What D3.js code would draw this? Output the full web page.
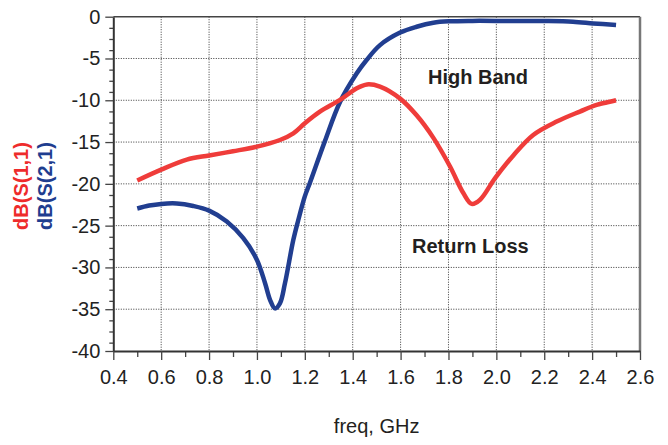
<!DOCTYPE html>
<html>
<head>
<meta charset="utf-8">
<script src="https://cdn.jsdelivr.net/npm/d3@7"></script>
<style>
  body { margin: 0; background: #ffffff; }
  svg { display: block; }
</style>
</head>
<body>
<div id="graph-container"></div>
<script>
// frequency (GHz) and dB values
const s11_freq = [0.5, 0.6, 0.707, 0.8, 0.9, 1.0, 1.096, 1.152, 1.2, 1.263, 1.347, 1.417, 1.46, 1.514,
                  1.598, 1.667, 1.737, 1.806, 1.862, 1.897, 1.932, 1.994, 2.071, 2.154, 2.252, 2.349, 2.419, 2.5];
const s11_db = [-19.6, -18.3, -17.1, -16.6, -16.1, -15.55, -14.75, -13.95, -12.75, -11.36, -9.96, -8.57, -8.1, -8.37,
                -9.8, -11.8, -14.5, -17.9, -21.1, -22.4, -21.9, -19.35, -16.6, -14.15, -12.55, -11.35, -10.55, -10.0];

const s21_freq = [0.5, 0.55, 0.6, 0.665, 0.734, 0.8, 0.874, 0.943, 1.0, 1.034, 1.055, 1.075, 1.096, 1.117,
                  1.152, 1.173, 1.2, 1.221, 1.283, 1.347, 1.417, 1.458, 1.514, 1.598, 1.667, 1.737, 1.806, 1.9,
                  2.0, 2.2, 2.32, 2.405, 2.5];
const s21_db = [-22.95, -22.6, -22.4, -22.35, -22.65, -23.2, -24.5, -26.5, -29.1, -31.9, -33.9, -34.9, -34.3, -31.9,
                -26.7, -24.3, -21.5, -19.9, -14.95, -10.2, -6.77, -5.18, -3.4, -1.9, -1.2, -0.72, -0.55, -0.5,
                -0.5, -0.52, -0.6, -0.8, -1.0];

const xTicks = [0.4, 0.6, 0.8, 1.0, 1.2, 1.4, 1.6, 1.8, 2.0, 2.2, 2.4, 2.6];
const yTicks = [0, -5, -10, -15, -20, -25, -30, -35, -40];
const xMinor = [0.5, 0.7, 0.9, 1.1, 1.3, 1.5, 1.7, 1.9, 2.1, 2.3, 2.5];
const yMinor = [];
for (let k = 0; k < 8; k++) {
    for (let j = 1; j <= 3; j++) yMinor.push(-(5 * k + 4 * j / 3));
}

const width = 668, height = 445;
const margin = { top: 16.7, right: 28, bottom: 94, left: 113.3 };
const w = width - margin.left - margin.right,
      h = height - margin.top - margin.bottom;

const svg = d3.select("#graph-container")
    .append("svg")
    .attr("width", width)
    .attr("height", height)
    .style("font-family", "'Liberation Sans', Arial, Helvetica, sans-serif");

const g = svg.append("g")
    .attr("transform", `translate(${margin.left}, ${margin.top})`);

const xScale = d3.scaleLinear().domain([0.4, 2.6]).range([0, w]);
const yScale = d3.scaleLinear().domain([-40, 0]).range([h, 0]);

// dotted grid
g.append("g")
    .selectAll("line")
    .data(xTicks.slice(1, -1))
    .join("line")
    .attr("x1", d => xScale(d)).attr("x2", d => xScale(d))
    .attr("y1", 0).attr("y2", h)
    .style("stroke", "#222")
    .style("stroke-width", 0.9)
    .style("stroke-dasharray", "1,1.5");

g.append("g")
    .selectAll("line")
    .data(yTicks.slice(1, -1))
    .join("line")
    .attr("x1", 0).attr("x2", w)
    .attr("y1", d => yScale(d)).attr("y2", d => yScale(d))
    .style("stroke", "#222")
    .style("stroke-width", 0.9)
    .style("stroke-dasharray", "1,1.5");

// top and right frame
g.append("line")
    .attr("x1", 0).attr("x2", w).attr("y1", 0).attr("y2", 0)
    .style("stroke", "#444").style("stroke-width", 1.5);
g.append("line")
    .attr("x1", w).attr("x2", w).attr("y1", 0).attr("y2", h)
    .style("stroke", "#777").style("stroke-width", 2.5);

// minor ticks
g.append("g")
    .attr("class", "x-minor")
    .attr("transform", "translate(0," + h + ")")
    .call(d3.axisBottom(xScale).tickValues(xMinor).tickSize(6).tickSizeOuter(0).tickFormat(""));
g.append("g")
    .attr("class", "y-minor")
    .call(d3.axisLeft(yScale).tickValues(yMinor).tickSize(4).tickSizeOuter(0).tickFormat(""));

const xaxis = d3.axisBottom(xScale)
    .tickValues(xTicks)
    .tickSize(9)
    .tickSizeOuter(0)
    .tickPadding(10)
    .tickFormat(d3.format(".1f"));

const yaxis = d3.axisLeft(yScale)
    .tickValues(yTicks)
    .tickSize(8)
    .tickSizeOuter(0)
    .tickPadding(5)
    .tickFormat(d => d);

g.append("g")
    .attr("class", "x-axis")
    .attr("transform", "translate(0," + h + ")")
    .call(xaxis)
    .selectAll("text")
    .style("font-size", "20px")
    .style("fill", "#222");

g.append("g")
    .attr("class", "y-axis")
    .call(yaxis)
    .selectAll("text")
    .style("font-size", "20px")
    .style("fill", "#222");

g.selectAll(".x-axis path, .y-axis path")
    .style("stroke", "#333")
    .style("stroke-width", 2);
g.selectAll(".tick line")
    .style("stroke", "#444")
    .style("stroke-width", 1.3);
g.selectAll(".x-minor path, .y-minor path").style("stroke", "none");

// curves
const line = d3.line()
    .x(d => xScale(d[0]))
    .y(d => yScale(d[1]))
    .curve(d3.curveCatmullRom.alpha(0.5));

g.append("path")
    .datum(s21_freq.map((f, i) => [f, s21_db[i]]))
    .attr("d", line)
    .style("fill", "none")
    .style("stroke", "#213e90")
    .style("stroke-width", 4.5);

g.append("path")
    .datum(s11_freq.map((f, i) => [f, s11_db[i]]))
    .attr("d", line)
    .style("fill", "none")
    .style("stroke", "#ef3c3a")
    .style("stroke-width", 4.5);

// annotations
svg.append("text")
    .attr("x", 428).attr("y", 84)
    .style("font-size", "20px").style("font-weight", "bold").style("fill", "#231f20")
    .text("High Band");

svg.append("text")
    .attr("x", 412).attr("y", 253)
    .style("font-size", "20px").style("font-weight", "bold").style("fill", "#231f20")
    .text("Return Loss");

svg.append("text")
    .attr("x", margin.left + w / 2).attr("y", 433)
    .attr("text-anchor", "middle")
    .style("font-size", "20px").style("fill", "#231f20")
    .text("freq, GHz");

svg.append("text")
    .attr("transform", "translate(28,186) rotate(-90)")
    .attr("text-anchor", "middle")
    .style("font-size", "20px").style("font-weight", "bold").style("fill", "#ee2b2b")
    .text("dB(S(1,1)");

svg.append("text")
    .attr("transform", "translate(52,186) rotate(-90)")
    .attr("text-anchor", "middle")
    .style("font-size", "20px").style("font-weight", "bold").style("fill", "#1f3d8f")
    .text("dB(S(2,1)");
</script>
</body>
</html>
